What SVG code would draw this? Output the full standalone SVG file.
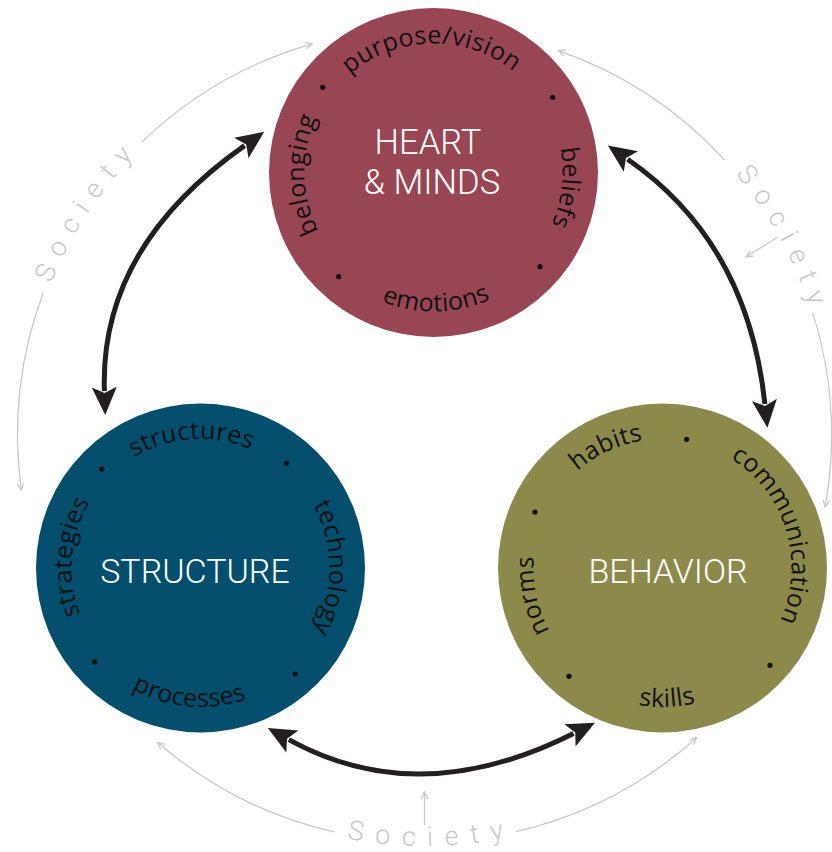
<svg xmlns="http://www.w3.org/2000/svg" xmlns:xlink="http://www.w3.org/1999/xlink" width="832" height="852" viewBox="0 0 832 852">
<style>
.lbl{font-family:"Open Sans","Noto Sans","Liberation Sans",sans-serif;font-size:25px;fill:#111;letter-spacing:0.3px}
.ttl{font-family:Roboto,"Liberation Sans",sans-serif;font-weight:300;font-size:34.5px;fill:#fff;text-anchor:middle}
.soc{font-family:Roboto,"Liberation Sans",sans-serif;font-weight:300;font-size:27px;fill:#c8c8c8;letter-spacing:12px}
.dot{fill:#111}
.big{fill:none;stroke:#231f20;stroke-width:5;marker-start:url(#ah);marker-end:url(#ah)}
.ring{fill:none;stroke:#c8c8c8;stroke-width:1.3;marker-end:url(#gh)}
</style>
<defs>
<marker id="ah" markerUnits="userSpaceOnUse" viewBox="-6 -14 32 28" markerWidth="32" markerHeight="28" refX="0" refY="0" orient="auto-start-reverse">
<path d="M24,0 L-4,-12.5 L2,0 L-4,12.5 Z" fill="#231f20"/>
</marker>
<marker id="gh" markerUnits="userSpaceOnUse" viewBox="-9 -5 10 10" markerWidth="10" markerHeight="10" refX="0" refY="0" orient="auto">
<path d="M-7,-3.2 L0,0 L-7,3.2" fill="none" stroke="#c8c8c8" stroke-width="1.3"/>
</marker>
<path id="cw" d="M-129,0 A129,129 0 0 1 129,0"/>
<path id="ccw" d="M-139,0 A139,139 0 0 0 139,0"/>
<path id="socTL" d="M-403,0 A403,403 0 0 1 403,0"/>
<path id="socR" d="M-406,0 A406,406 0 0 1 406,0"/>
<path id="socB" d="M-411,0 A411,411 0 0 0 411,0"/>
</defs>

<g id="connectors">
<path class="big" d="M244.6,145.6 Q99.5,247.6 104.4,391.1"/>
<path class="big" d="M627.6,159.2 Q747.8,242.4 764.9,404"/>
<path class="big" d="M288.8,739.6 Q418.8,811.4 573.5,733.5"/>
<path class="ring" d="M141.8,142.2 A407,407 0 0 1 312.3,43.8"/>
<path class="ring" d="M43.3,292.5 A407,407 0 0 0 21.3,490.2"/>
<path class="ring" d="M724.6,160 A407,407 0 0 0 558.4,50.6"/>
<path class="ring" d="M812.7,312.6 A407,407 0 0 1 825.1,507.1"/>
<path class="ring" d="M778,237 L746,257"/>
<path class="ring" d="M334.3,831.9 A407,407 0 0 1 157.5,742.2"/>
<path class="ring" d="M516.1,831.6 A407,407 0 0 0 696.8,737.4"/>
<path class="ring" d="M424.5,825 L424.5,792"/>
</g>

<g id="society-labels">
<text class="soc" transform="translate(424.5,435) rotate(-56.3)"><textPath xlink:href="#socTL" href="#socTL" startOffset="50%" text-anchor="middle" style="letter-spacing:11px">Society</textPath></text>
<text class="soc" transform="translate(424.5,435) rotate(61.5)"><textPath xlink:href="#socR" href="#socR" startOffset="50%" text-anchor="middle" style="letter-spacing:11px">Society</textPath></text>
<text class="soc" transform="translate(424.5,435) rotate(-1)"><textPath xlink:href="#socB" href="#socB" startOffset="50%" text-anchor="middle">Society</textPath></text>
</g>

<g id="heart">
<circle cx="433.5" cy="172.5" r="164.5" fill="#994654"/>
<text class="ttl" x="428" y="154">HEART</text>
<text class="ttl" x="432" y="194">&amp; MINDS</text>
<text class="lbl" transform="translate(433.5,172.5) rotate(-1)"><textPath xlink:href="#cw" href="#cw" startOffset="50%" text-anchor="middle">purpose/vision</textPath></text>
<text class="lbl" transform="translate(433.5,172.5) rotate(96.5)"><textPath xlink:href="#cw" href="#cw" startOffset="50%" text-anchor="middle">beliefs</textPath></text>
<text class="lbl" transform="translate(433.5,172.5) rotate(269)"><textPath xlink:href="#cw" href="#cw" startOffset="50%" text-anchor="middle">belonging</textPath></text>
<text class="lbl" transform="translate(433.5,172.5) rotate(-1.2)"><textPath xlink:href="#ccw" href="#ccw" startOffset="50%" text-anchor="middle">emotions</textPath></text>
<circle class="dot" cx="322.7" cy="87.3" r="2.6"/>
<circle class="dot" cx="552.7" cy="97.3" r="2.6"/>
<circle class="dot" cx="540" cy="266.7" r="2.6"/>
<circle class="dot" cx="338.7" cy="276.7" r="2.6"/>
</g>

<g id="structure">
<circle cx="200.5" cy="568" r="164.5" fill="#034f6d"/>
<text class="ttl" x="195" y="583" style="font-size:34px">STRUCTURE</text>
<text class="lbl" transform="translate(200.5,568) rotate(-4)"><textPath xlink:href="#cw" href="#cw" startOffset="50%" text-anchor="middle">structures</textPath></text>
<text class="lbl" transform="translate(200.5,568) rotate(90)"><textPath xlink:href="#cw" href="#cw" startOffset="50%" text-anchor="middle">technology</textPath></text>
<text class="lbl" transform="translate(200.5,568) rotate(275)"><textPath xlink:href="#cw" href="#cw" startOffset="50%" text-anchor="middle">strategies</textPath></text>
<text class="lbl" transform="translate(200.5,568) rotate(5)"><textPath xlink:href="#ccw" href="#ccw" startOffset="50%" text-anchor="middle">processes</textPath></text>
<circle class="dot" cx="101.7" cy="469" r="2.6"/>
<circle class="dot" cx="286.7" cy="463.3" r="2.6"/>
<circle class="dot" cx="295.3" cy="674" r="2.6"/>
<circle class="dot" cx="94.7" cy="661.7" r="2.6"/>
</g>

<g id="behavior">
<circle cx="662.5" cy="568" r="164.5" fill="#8b8a4a"/>
<text class="ttl" x="668" y="583" style="font-size:34px">BEHAVIOR</text>
<text class="lbl" transform="translate(662.5,568) rotate(-25)"><textPath xlink:href="#cw" href="#cw" startOffset="50%" text-anchor="middle">habits</textPath></text>
<text class="lbl" transform="translate(662.5,568) rotate(73)"><textPath xlink:href="#cw" href="#cw" startOffset="50%" text-anchor="middle">communication</textPath></text>
<text class="lbl" transform="translate(662.5,568) rotate(258)"><textPath xlink:href="#cw" href="#cw" startOffset="50%" text-anchor="middle">norms</textPath></text>
<text class="lbl" transform="translate(662.5,568) rotate(-2)"><textPath xlink:href="#ccw" href="#ccw" startOffset="50%" text-anchor="middle">skills</textPath></text>
<circle class="dot" cx="686.7" cy="439.3" r="2.6"/>
<circle class="dot" cx="535" cy="512" r="2.6"/>
<circle class="dot" cx="770" cy="665.3" r="2.6"/>
<circle class="dot" cx="569" cy="676.3" r="2.6"/>
</g>
</svg>
